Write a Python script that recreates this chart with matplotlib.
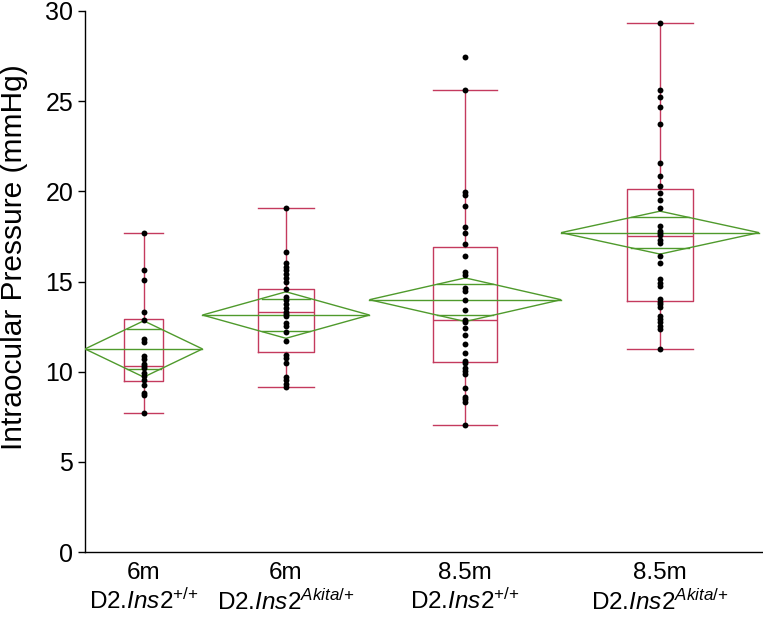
import numpy as np
import matplotlib
matplotlib.use("Agg")
import matplotlib.pyplot as plt
from matplotlib.patches import Polygon

plt.rcParams['font.family'] = ['Liberation Sans', 'DejaVu Sans']
plt.rcParams['mathtext.fontset'] = 'custom'
plt.rcParams['mathtext.rm'] = 'Liberation Sans'
plt.rcParams['mathtext.it'] = 'Liberation Sans:italic'
plt.rcParams['mathtext.default'] = 'regular'

# ---- data ----
ages = ["6m", "6m", "8.5m", "8.5m"]
genotypes = [r"D2.$\mathit{Ins2}^{+/{+}}$",
             r"D2.$\mathit{Ins2}^{\mathit{Akita}/{+}}$",
             r"D2.$\mathit{Ins2}^{+/{+}}$",
             r"D2.$\mathit{Ins2}^{\mathit{Akita}/{+}}$"]

iop_6m_wt = [17.69, 15.66, 15.07, 13.29, 12.85, 11.80, 11.66, 10.87, 10.72,
             10.42, 10.33, 10.19, 9.95, 9.78, 9.52, 9.28, 8.84, 8.69, 7.73]
iop_6m_akita = [19.08, 16.62, 16.01, 15.83, 15.64, 15.42, 15.18, 14.99, 14.57,
                14.12, 13.98, 13.75, 13.51, 13.33, 13.20, 13.09, 12.68, 12.53,
                12.22, 11.72, 10.93, 10.74, 10.50, 9.72, 9.54, 9.32, 9.13]
iop_85m_wt = [27.45, 25.60, 19.98, 19.80, 19.21, 18.04, 17.71, 17.07, 16.43,
              15.51, 15.36, 14.62, 14.48, 13.98, 13.42, 12.87, 12.74, 12.41,
              12.04, 11.52, 11.02, 10.59, 10.47, 10.22, 10.04, 9.86, 9.11,
              8.61, 8.49, 8.34, 7.04]
iop_85m_akita = [29.36, 25.62, 25.22, 24.66, 23.72, 21.59, 20.87, 20.32, 19.93,
                 19.52, 19.06, 18.08, 17.82, 17.71, 17.58, 17.30, 17.15, 16.42,
                 16.05, 15.12, 14.94, 14.75, 14.02, 13.88, 13.75, 13.61, 13.09,
                 12.92, 12.74, 12.55, 12.37, 11.26]

# box-plot summary as drawn
box_q1 = [9.50, 11.09, 10.55, 13.94]
box_median = [10.33, 13.33, 12.87, 17.53]
box_q3 = [12.92, 14.57, 16.93, 20.12]
whisker_low = [7.73, 9.13, 7.04, 11.26]
whisker_high = [17.69, 19.08, 25.60, 29.36]

# means diamonds (mean and 95% CI half-width)
group_mean = [11.26, 13.14, 13.99, 17.71]
group_ci = [1.56, 1.29, 1.21, 1.19]

groups = [iop_6m_wt, iop_6m_akita, iop_85m_wt, iop_85m_akita]

# ---- styling ----
BOX_COLOR = '#C43A5E'
DIAMOND_COLOR = '#4F9A2C'
LW = 1.0

fig = plt.figure(figsize=(7.63, 6.18), dpi=100)
ax = fig.add_axes([85 / 763, 66 / 618, 678 / 763, 541 / 618])

n = np.array([len(g) for g in groups], dtype=float)
edges = np.concatenate([[0.0], np.cumsum(n)])
centers = (edges[:-1] + edges[1:]) / 2
box_w = n / 3.0

stats = []
for i in range(len(groups)):
    stats.append(dict(med=box_median[i], q1=box_q1[i], q3=box_q3[i],
                      whislo=whisker_low[i], whishi=whisker_high[i], fliers=[]))
lp = dict(color=BOX_COLOR, linewidth=LW)
ax.bxp(stats, positions=centers, widths=box_w, capwidths=box_w,
       showfliers=False, manage_ticks=False,
       boxprops=lp, whiskerprops=lp, capprops=lp, medianprops=lp,
       zorder=2)

for i in range(len(groups)):
    left, right, c = edges[i], edges[i + 1], centers[i]
    m, ci = group_mean[i], group_ci[i]
    diamond = Polygon([(left, m), (c, m + ci), (right, m), (c, m - ci)],
                      closed=True, fill=False, edgecolor=DIAMOND_COLOR,
                      linewidth=LW, zorder=3)
    ax.add_patch(diamond)
    ax.plot([left, right], [m, m], color=DIAMOND_COLOR, lw=LW, zorder=3)
    ov = ci / np.sqrt(2)
    hw = (right - left) / 2 * (1 - ov / ci)
    for y in (m + ov, m - ov):
        ax.plot([c - hw, c + hw], [y, y], color=DIAMOND_COLOR, lw=LW, zorder=3)
    ax.scatter(np.full(len(groups[i]), c), groups[i], s=18, color='black',
               zorder=5, linewidths=0)

ax.set_xlim(0, edges[-1] + 0.65)
ax.set_ylim(0, 30)
ax.set_yticks(np.arange(0, 31, 5))
ax.set_xticks(centers)
ax.set_xticklabels([f"{a}\n{g}" for a, g in zip(ages, genotypes)],
                   fontsize=17.5, linespacing=1.25)
ax.tick_params(axis='x', length=0, pad=7)
ax.tick_params(axis='y', labelsize=18, length=5, width=1.0, direction='out',
               pad=3.5)
for s in ('top', 'right'):
    ax.spines[s].set_visible(False)
for s in ('left', 'bottom'):
    ax.spines[s].set_linewidth(1.0)
ax.set_ylabel("Intraocular Pressure (mmHg)", fontsize=21.5)
ax.yaxis.set_label_coords(-0.084, 0.545)

fig.savefig("out.png", dpi=100)
